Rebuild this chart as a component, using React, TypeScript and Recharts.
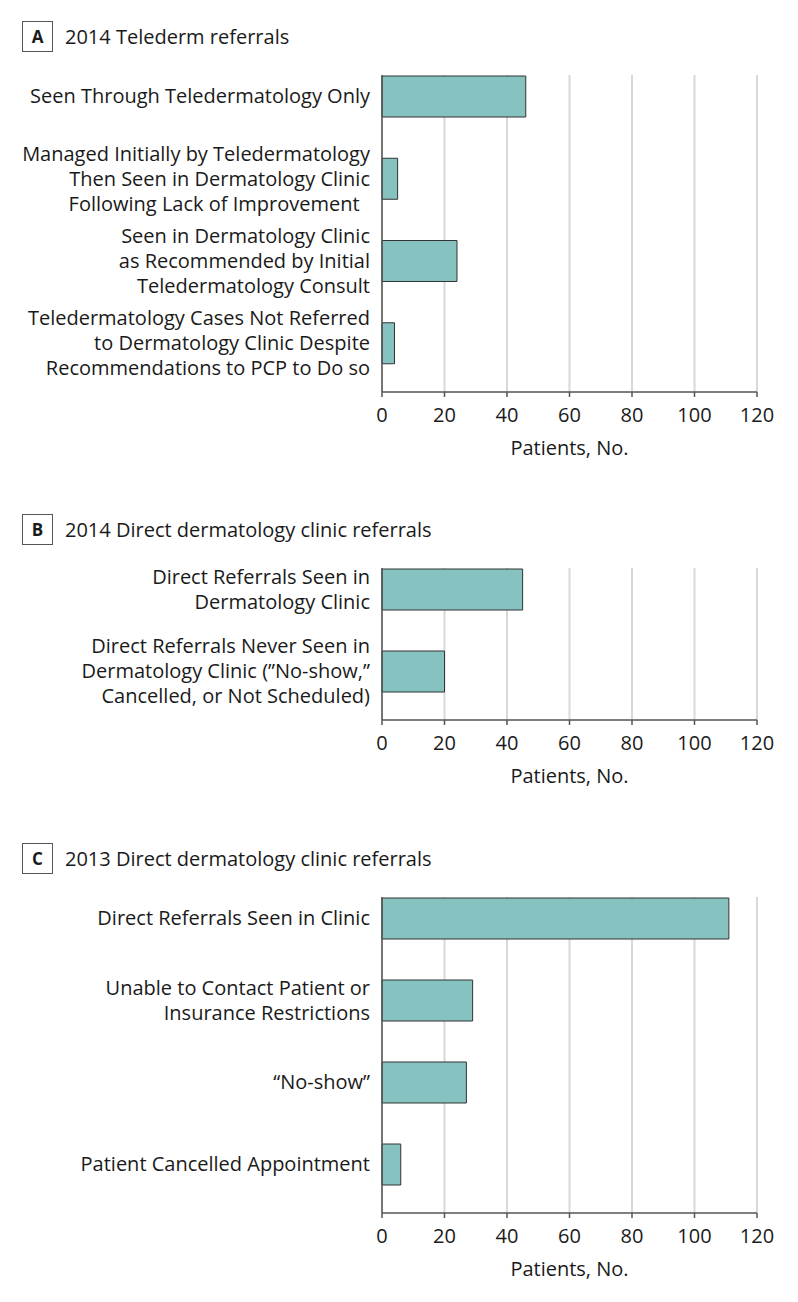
import React from "react";
import { BarChart, Bar, XAxis, YAxis, CartesianGrid } from "recharts";

const FONT = "'Open Sans', sans-serif";
const INK = "#1a1a1a";

const xTicks = [0, 20, 40, 60, 80, 100, 120];

const teledermLabels = [
  "Seen Through Teledermatology Only",
  "Managed Initially by Teledermatology\nThen Seen in Dermatology Clinic\nFollowing Lack of Improvement\u00a0\u00a0",
  "Seen in Dermatology Clinic\nas Recommended by Initial\nTeledermatology Consult",
  "Teledermatology Cases Not Referred\nto Dermatology Clinic Despite\nRecommendations to PCP to Do so",
];
const teledermValues = [46, 5, 24, 4];

const direct2014Labels = [
  "Direct Referrals Seen in\nDermatology Clinic",
  "Direct Referrals Never Seen in\nDermatology Clinic (\u201dNo-show,\u201d\nCancelled, or Not Scheduled)",
];
const direct2014Values = [45, 20];

const direct2013Labels = [
  "Direct Referrals Seen in Clinic",
  "Unable to Contact Patient or\nInsurance Restrictions",
  "\u201cNo-show\u201d",
  "Patient Cancelled Appointment",
];
const direct2013Values = [111, 29, 27, 6];

const MultiTick = ({ x, y, payload }: any) => {
  const lines = String(payload.value).split("\n");
  const lh = 25;
  const start = -((lines.length - 1) * lh) / 2;
  return (
    <text x={x} y={y} textAnchor="end" fontSize={20} fill={INK} fontFamily={FONT}>
      {lines.map((l, i) => (
        <tspan key={i} x={x} y={y + start + i * lh} dy="0.36em">
          {l}
        </tspan>
      ))}
    </text>
  );
};

function PanelTitle({ letter, title, top }: { letter: string; title: string; top: number }) {
  return (
    <div style={{ position: "absolute", left: 22, top, height: 31, display: "flex", alignItems: "center" }}>
      <div
        style={{
          width: 29,
          height: 29,
          border: "1px solid #555",
          display: "flex",
          alignItems: "center",
          justifyContent: "center",
          fontWeight: 700,
          fontSize: 17,
          color: INK,
          fontFamily: FONT,
        }}
      >
        {letter}
      </div>
      <div style={{ marginLeft: 12, fontSize: 20, color: INK, fontFamily: FONT }}>{title}</div>
    </div>
  );
}

function Panel({ labels, values, top, plotHeight }: { labels: string[]; values: number[]; top: number; plotHeight: number }) {
  const data = labels.map((name, i) => ({ name, value: values[i] }));
  return (
    <div style={{ position: "absolute", left: 0, top: top - 20 }}>
      <BarChart
        width={798}
        height={plotHeight + 100}
        data={data}
        layout="vertical"
        margin={{ top: 20, right: 41, bottom: 0, left: 0 }}
      >
        <CartesianGrid horizontal={false} stroke="#d8d8d8" strokeWidth={2} />
        <XAxis
          type="number"
          domain={[0, 120]}
          ticks={xTicks}
          height={80}
          axisLine={{ stroke: "#555", strokeWidth: 1.5 }}
          tickLine={{ stroke: "#555", strokeWidth: 1.5 }}
          tickSize={5}
          tickMargin={11}
          tick={{ fontSize: 20, fill: INK, fontFamily: FONT }}
          label={{ value: "Patients, No.", position: "insideBottom", offset: 17, fontSize: 20, fill: INK, fontFamily: FONT }}
        />
        <YAxis
          type="category"
          dataKey="name"
          width={382}
          interval={0}
          tickLine={false}
          tickSize={0}
          tickMargin={12}
          axisLine={{ stroke: "#555", strokeWidth: 1.5 }}
          padding={{ top: -20, bottom: 8 }}
          tick={<MultiTick />}
        />
        <Bar dataKey="value" fill="#86c2bf" stroke="#333" strokeWidth={1} barSize={41} isAnimationActive={false} />
      </BarChart>
    </div>
  );
}

export default function App() {
  return (
    <div style={{ position: "absolute", left: 0, top: 0, width: 798, height: 1302, background: "#fff" }}>
      <PanelTitle letter="A" title="2014 Telederm referrals" top={21} />
      <Panel labels={teledermLabels} values={teledermValues} top={75} plotHeight={317} />
      <PanelTitle letter="B" title="2014 Direct dermatology clinic referrals" top={514} />
      <Panel labels={direct2014Labels} values={direct2014Values} top={568} plotHeight={152} />
      <PanelTitle letter="C" title="2013 Direct dermatology clinic referrals" top={843} />
      <Panel labels={direct2013Labels} values={direct2013Values} top={897} plotHeight={316} />
    </div>
  );
}
